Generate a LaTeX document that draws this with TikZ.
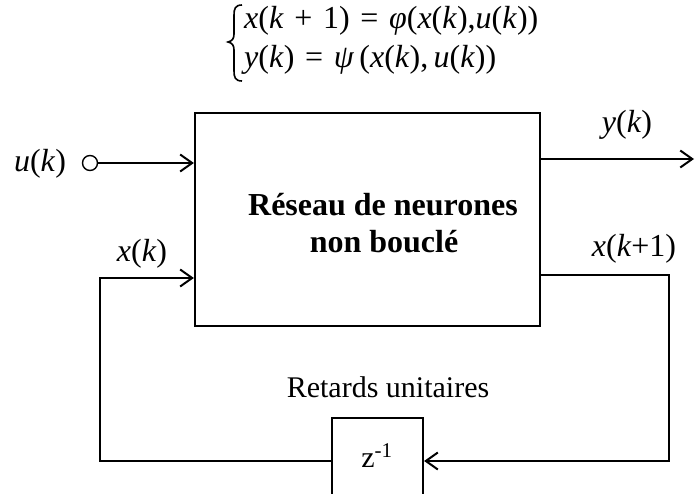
\documentclass[tikz,border=0pt]{standalone}
\usepackage{fontspec}
\setmainfont{Liberation Serif}
\usetikzlibrary{arrows.meta}
\begin{document}
\begin{tikzpicture}[x=1pt,y=-1pt,
  wire/.style={line width=2pt},
  arr/.style={wire,-{Straight Barb[length=12pt,width=17pt,line width=2pt]}},
  lbl/.style={inner sep=0pt,font=\fontsize{32}{36}\selectfont},
  eqf/.style={inner sep=0pt,font=\fontsize{32}{36}\selectfont},
  boxed/.style={draw,line width=2.2pt,inner sep=0pt}]
\useasboundingbox (0,0) rectangle (695,494);
\clip (0,0) rectangle (695,494);
% equations
\draw[line width=1.6pt] (242,5) .. controls (235,5) and (234,9) .. (234,15)
  -- (234,34) .. controls (234,39) and (232,41) .. (228,42)
  .. controls (232,43) and (234,45) .. (234,50)
  -- (234,71) .. controls (234,77) and (235,81) .. (242,81);
\node[eqf,anchor=base west] (eq1) at (244,29) {\textit{x}(\textit{k}\,\,+\,\,1)\,\,=\,\,\textit{φ}(\textit{x}(\textit{k}),\textit{u}(\textit{k}))};
\node[eqf,anchor=base west] (eq2) at (244,68) {\textit{y}(\textit{k})\,\,=\,\,\textit{ψ}\,(\textit{x}(\textit{k}),\,\textit{u}(\textit{k}))};
% main box
\node[boxed,minimum width=345pt,minimum height=213pt] (net) at (367.5,219.5) {};
\node[lbl,anchor=base] (nettxt1) at (383,215) {\bfseries Réseau de neurones};
\node[lbl,anchor=base] (nettxt2) at (384,252) {\bfseries non bouclé};
% delay box
\node[boxed,minimum width=91pt,minimum height=100pt] (z) at (377.5,468) {};
\node[lbl,font=\fontsize{30}{36}\selectfont,anchor=base] (ztxt) at (377,467) {z\textsuperscript{-1}};
\node[lbl,font=\fontsize{30}{36}\selectfont,anchor=base] (ret) at (388,397) {Retards unitaires};
% input
\node[draw,circle,line width=1.4pt,minimum size=15pt,inner sep=0pt] (uc) at (90,163) {};
\node[lbl,anchor=base] (ulbl) at (40,172) {\textit{u}(\textit{k})};
\draw[arr] (uc.east) -- (net.west |- uc);
% output
\coordinate (yend) at (694,159);
\draw[arr] (net.east |- yend) -- (yend);
\node[lbl,anchor=base] (ylbl) at (627,133) {\textit{y}(\textit{k})};
% feedback
\coordinate (rc) at (669,275);
\coordinate (rb) at (669,461);
\coordinate (lb) at (100,461);
\coordinate (lt) at (100,278);
\draw[arr] (net.east |- rc) -- (rc) -- (rb) -- (z.east |- rb);
\draw[arr] (z.west |- lb) -- (lb) -- (lt) -- (net.west |- lt);
\node[lbl,anchor=base] (xk1) at (634,256) {\textit{x}(\textit{k}+1)};
\node[lbl,anchor=base] (xk) at (142,261) {\textit{x}(\textit{k})};
\end{tikzpicture}
\end{document}
